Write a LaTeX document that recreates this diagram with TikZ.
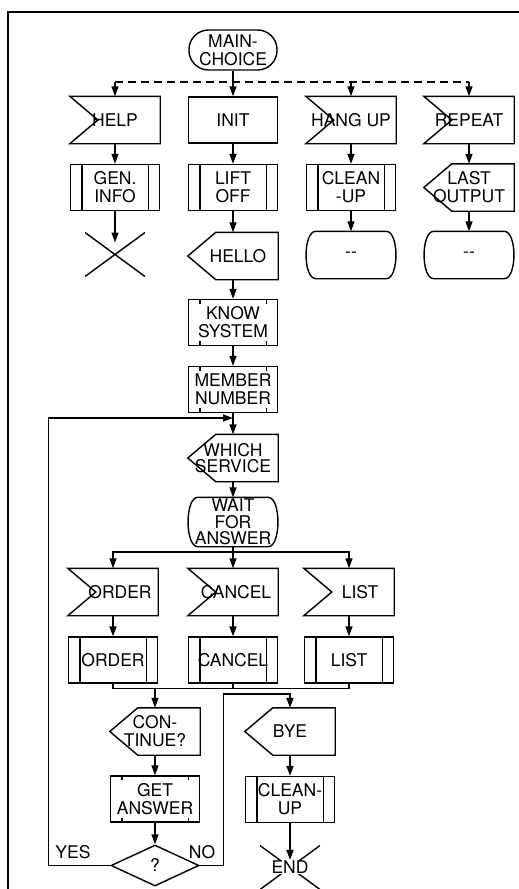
\documentclass[tikz,border=0pt]{standalone}
\usepackage{fontspec}
\setmainfont{TeX Gyre Heros}
\usetikzlibrary{arrows.meta,shapes.geometric,calc}
\newcommand{\fcfont}{\fontsize{17.5}{18}\selectfont}
\newcommand{\fctight}{\fontsize{17.5}{16.5}\selectfont}

\begin{document}
\begin{tikzpicture}[
  x=1pt,y=-1pt,font=\fcfont,line width=1.4pt,
  blk/.style={rectangle,minimum width=89pt,minimum height=46pt,inner xsep=-20pt,inner ysep=0pt,align=center},
  task/.style={blk,draw},
  term/.style={task,minimum width=88pt,minimum height=40pt,rounded corners=19.5pt},
  proc/.style={task,append after command={\pgfextra{\let\blkn\tikzlastnode}
      ([xshift=12pt]\blkn.north west) edge ([xshift=12pt]\blkn.south west)
      ([xshift=-12pt]\blkn.north east) edge ([xshift=-12pt]\blkn.south east)}},
  ktask/.style={task,append after command={\pgfextra{\let\blkn\tikzlastnode}
      ([xshift=12pt]\blkn.north west) edge ++(0,5)
      ([xshift=-12pt]\blkn.north east) edge ++(0,5)
      ([xshift=12pt]\blkn.south west) edge ++(0,-5)
      ([xshift=-12pt]\blkn.south east) edge ++(0,-5)}},
  insig/.style={blk,append after command={\pgfextra{\let\blkn\tikzlastnode
      \draw (\blkn.north west) -- (\blkn.north east) -- (\blkn.south east)
        -- (\blkn.south west) -- ([xshift=28pt]\blkn.west) -- cycle;}}},
  outsig/.style={blk,append after command={\pgfextra{\let\blkn\tikzlastnode
      \draw ([xshift=28pt]\blkn.north west) -- (\blkn.north east) -- (\blkn.south east)
        -- ([xshift=28pt]\blkn.south west) -- (\blkn.west) -- cycle;}}},
  barrel/.style={blk,append after command={\pgfextra{\let\blkn\tikzlastnode
      \draw ([xshift=10pt]\blkn.north west) -- ([xshift=-10pt]\blkn.north east)
        .. controls ([xshift=3pt]\blkn.north east) and ([xshift=3pt]\blkn.south east) .. ([xshift=-10pt]\blkn.south east)
        -- ([xshift=10pt]\blkn.south west)
        .. controls ([xshift=-3pt]\blkn.south west) and ([xshift=-3pt]\blkn.north west) .. ([xshift=10pt]\blkn.north west) -- cycle;}}},
  dec/.style={diamond,draw,minimum width=88pt,minimum height=41pt,inner sep=0pt},
  stopx/.style={rectangle,minimum width=60pt,minimum height=44pt,inner sep=0pt,
      path picture={\draw (path picture bounding box.north west) -- (path picture bounding box.south east)
        (path picture bounding box.south west) -- (path picture bounding box.north east);}},
  ar/.style={-{Triangle[length=10pt,width=7pt]}}
]
\useasboundingbox (0,0) rectangle (519,889);
\draw[line width=1.6pt] (8,889) -- (8,12) -- (519,12);

% main choice and first row
\node[term] (main) at (233,50) {MAIN-\\CHOICE};
\node[insig] (help) at (115,120) {HELP};
\node[task]  (init) at (233,120) {INIT};
\node[insig] (hang) at (351,120) {HANG UP};
\node[insig] (rep)  at (469,120) {REPEAT};

\node[proc] (gen)  at (115,187.5) {GEN.\\INFO};
\node[proc] (lift) at (233,187.5) {LIFT\\OFF};
\node[proc] (clup) at (351,187.5) {CLEAN\\-UP};
\node[outsig] (last) at (469,187.5) {LAST\\OUTPUT};

\node[stopx] (helpx) at (115,254.5) {};
\node[outsig] (hello) at (233,256) {\hspace*{10pt}HELLO};
\node[barrel] (dsh1) at (351,255) {-{}-};
\node[barrel] (dsh2) at (469,255) {-{}-};

% log on
\node[ktask] (know) at (233,322.5) {KNOW\\SYSTEM};
\node[ktask] (memb) at (233,389.5) {MEMBER\\NUMBER};
\node[outsig,font=\fctight] (which) at (233,458) {WHICH\\SERVICE};
\node[barrel,font=\fctight,minimum height=48pt] (wait) at (233,522) {WAIT\\FOR\\ANSWER};

% services
\node[insig] (iord) at (113,592) {\hspace*{14pt}ORDER};
\node[insig] (icnl) at (233,592) {\hspace*{6pt}CANCEL};
\node[insig] (ilst) at (349,592) {\hspace*{22pt}LIST};
\node[proc] (pord) at (113,660) {ORDER};
\node[proc] (pcnl) at (233,660) {CANCEL};
\node[proc] (plst) at (349,660) {LIST};

% continue or leave
\node[outsig] (cont) at (155,731.5) {CON-\\TINUE?};
\node[outsig] (bye)  at (290,731.5) {BYE};
\node[ktask] (get)   at (155,799) {GET\\ANSWER};
\node[proc] (clup2)  at (290,799.5) {CLEAN-\\UP};
\node[dec] (quest)   at (155,865.5) {?};
\node[stopx,label={[name=endt,fill=white,inner sep=0.5pt]center:END}] (endx) at (290,867.5) {};
\node (yes) at (73,852) {YES};
\node (no)  at (202,852) {NO};

% connectors
\coordinate (dl) at (233,82);
\draw[ar] (main.south) -- (init.north);
\draw[dash pattern=on 8pt off 5pt] (help.north |- dl) -- (rep.north |- dl);
\draw[ar] (help.north |- dl) -- (help.north);
\draw[ar] (hang.north |- dl) -- (hang.north);
\draw[ar] (rep.north |- dl) -- (rep.north);
\draw[ar] (help.south) -- (gen.north);
\draw[ar,shorten >=12pt] (gen.south) -- (helpx.center);
\draw[ar] (init.south) -- (lift.north);
\draw[ar] (lift.south) -- (hello.north);
\draw[ar] (hang.south) -- (clup.north);
\draw[ar] (clup.south) -- (dsh1.north);
\draw[ar] (rep.south) -- (last.north);
\draw[ar] (last.south) -- (dsh2.north);
\draw[ar] (hello.south) -- (know.north);
\draw[ar] (know.south) -- (memb.north);
\draw[ar] (memb.south) -- (which.north);
\draw[ar] (which.south) -- (wait.north);

\coordinate (brk) at (233,552);
\draw (wait.south) -- (brk);
\draw[ar] (brk) -| (iord.north);
\draw[ar] (brk) -- (icnl.north);
\draw[ar] (brk) -| (ilst.north);
\draw[ar] (iord.south) -- (pord.north);
\draw[ar] (icnl.south) -- (pcnl.north);
\draw[ar] (ilst.south) -- (plst.north);

\coordinate (mrg) at (155,688);
\draw (pord.south) -- ++(0,5) -| (plst.south);
\draw (pcnl.south) -- ++(0,5);
\draw[ar] (mrg) -- (cont.north);
\draw[ar] (cont.south) -- (get.north);
\draw[ar] (get.south) -- (quest.north);
\draw[ar] (bye.south) -- (clup2.north);
\draw[ar] (clup2.south) -- (endt.north);

% loop back and exit
\coordinate (lp) at (233,418);
\draw[ar] (quest.west) -- ++(-62,0) |- (lp);
\draw[ar] (quest.east) -- ++(24,0) |- ($(bye.north)+(0,-14)$) -- (bye.north);
\end{tikzpicture}
\end{document}
